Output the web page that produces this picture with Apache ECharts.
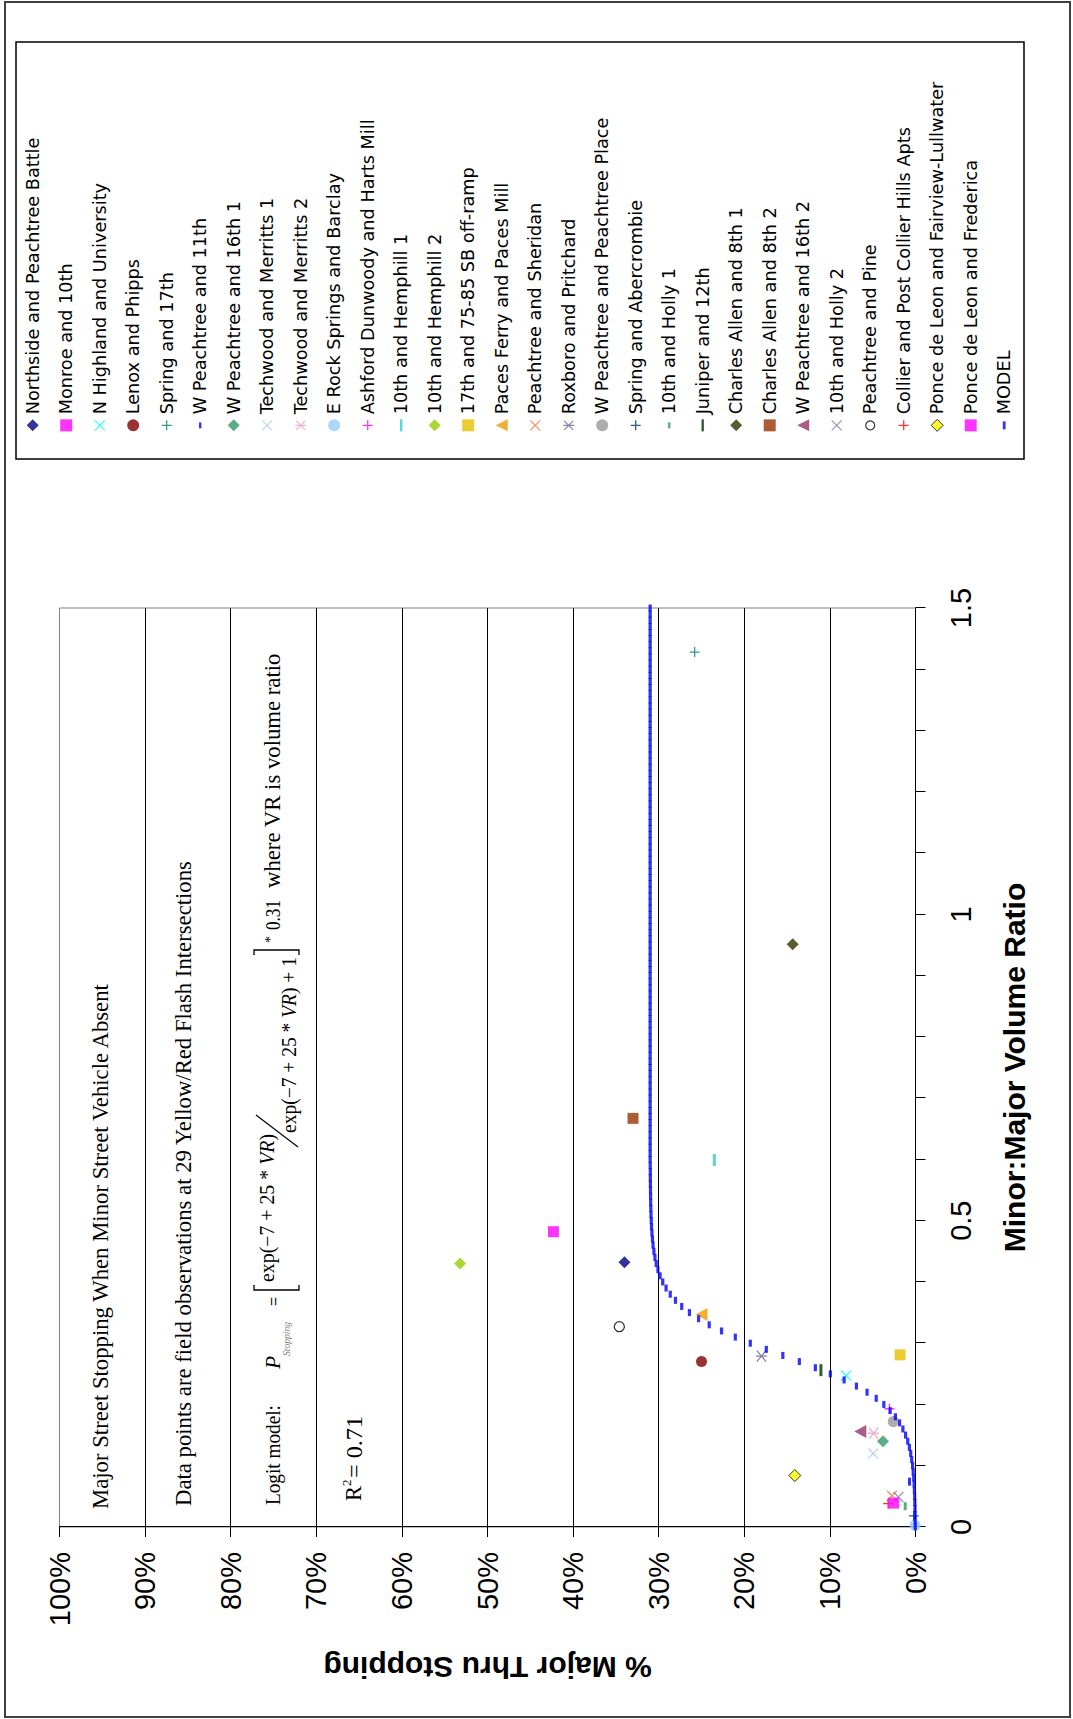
<!DOCTYPE html>
<html>
<head>
<meta charset="utf-8">
<title>Major Street Stopping When Minor Street Vehicle Absent</title>
<script src="https://cdn.jsdelivr.net/npm/echarts@6/dist/echarts.min.js"></script>
<style>
  html, body { margin: 0; padding: 0; background: #fff; overflow: hidden; }
  #page { position: absolute; left: 0; top: 0; width: 1073px; height: 1719px; overflow: hidden; background: #fff; }
  /* the chart is laid out landscape and turned a quarter turn counter-clockwise onto the portrait page */
  #chart { position: absolute; left: 0; top: 0; width: 1719px; height: 1073px;
           transform-origin: 0 0; transform: translate(0, 1719px) rotate(-90deg); }
</style>
</head>
<body>
<div id="page"><div id="chart"></div></div>
<script>
// ---- field observations (29 yellow/red flash intersections) ----
const siteNames = [
  'Northside and Peachtree Battle', 'Monroe and 10th', 'N Highland and University', 'Lenox and Phipps',
  'Spring and 17th', 'W Peachtree and 11th', 'W Peachtree and 16th 1', 'Techwood and Merritts 1',
  'Techwood and Merritts 2', 'E Rock Springs and Barclay', 'Ashford Dunwoody and Harts Mill', '10th and Hemphill 1',
  '10th and Hemphill 2', '17th and 75-85 SB off-ramp', 'Paces Ferry and Paces Mill', 'Peachtree and Sheridan',
  'Roxboro and Pritchard', 'W Peachtree and Peachtree Place', 'Spring and Abercrombie', '10th and Holly 1',
  'Juniper and 12th', 'Charles Allen and 8th 1', 'Charles Allen and 8th 2', 'W Peachtree and 16th 2',
  '10th and Holly 2', 'Peachtree and Pine', 'Collier and Post Collier Hills Apts', 'Ponce de Leon and Fairview-Lullwater',
  'Ponce de Leon and Frederica'
];
// minor:major volume ratio
const volumeRatio = [
  0.432, 0.482, 0.247, 0.270, 1.428, 0.074, 0.140, 0.120, 0.153, 0.003,
  0.193, 0.599, 0.430, 0.281, 0.347, 0.051, 0.279, 0.172, 0.018, 0.034,
  0.256, 0.951, 0.667, 0.156, 0.049, 0.327, 0.038, 0.084, 0.039
];
// % of major street through vehicles stopping
const pctStopping = [
  34.0, 42.3, 8.1, 25.0, 25.8, 0.7, 3.8, 4.95, 4.9, 0.05,
  3.05, 23.5, 53.2, 1.8, 25.0, 2.75, 18.0, 2.6, 0.2, 1.2,
  11.05, 14.35, 33.0, 6.45, 2.0, 34.6, 3.2, 14.1, 2.55
];

// ---- logit model curve ----
const modelName = 'MODEL';
const modelRatio = [
  0.00, 0.01, 0.02, 0.03, 0.04, 0.05, 0.06, 0.07, 0.08, 0.09,
  0.10, 0.11, 0.12, 0.13, 0.14, 0.15, 0.16, 0.17, 0.18, 0.19,
  0.20, 0.21, 0.22, 0.23, 0.24, 0.25, 0.26, 0.27, 0.28, 0.29,
  0.30, 0.31, 0.32, 0.33, 0.34, 0.35, 0.36, 0.37, 0.38, 0.39,
  0.40, 0.41, 0.42, 0.43, 0.44, 0.45, 0.46, 0.47, 0.48, 0.49,
  0.50, 0.51, 0.52, 0.53, 0.54, 0.55, 0.56, 0.57, 0.58, 0.59,
  0.60, 0.61, 0.62, 0.63, 0.64, 0.65, 0.66, 0.67, 0.68, 0.69,
  0.70, 0.71, 0.72, 0.73, 0.74, 0.75, 0.76, 0.77, 0.78, 0.79,
  0.80, 0.81, 0.82, 0.83, 0.84, 0.85, 0.86, 0.87, 0.88, 0.89,
  0.90, 0.91, 0.92, 0.93, 0.94, 0.95, 0.96, 0.97, 0.98, 0.99,
  1.00, 1.01, 1.02, 1.03, 1.04, 1.05, 1.06, 1.07, 1.08, 1.09,
  1.10, 1.11, 1.12, 1.13, 1.14, 1.15, 1.16, 1.17, 1.18, 1.19,
  1.20, 1.21, 1.22, 1.23, 1.24, 1.25, 1.26, 1.27, 1.28, 1.29,
  1.30, 1.31, 1.32, 1.33, 1.34, 1.35, 1.36, 1.37, 1.38, 1.39,
  1.40, 1.41, 1.42, 1.43, 1.44, 1.45, 1.46, 1.47, 1.48, 1.49,
  1.50
];
const modelPct = [
  0.03, 0.04, 0.05, 0.06, 0.08, 0.10, 0.13, 0.16, 0.21, 0.27,
  0.34, 0.44, 0.56, 0.71, 0.91, 1.16, 1.47, 1.86, 2.35, 2.96,
  3.70, 4.59, 5.66, 6.90, 8.34, 9.95, 11.70, 13.57, 15.50, 17.43,
  19.30, 21.05, 22.66, 24.10, 25.34, 26.41, 27.31, 28.04, 28.65, 29.14,
  29.53, 29.84, 30.09, 30.29, 30.44, 30.56, 30.66, 30.73, 30.79, 30.84,
  30.87, 30.90, 30.92, 30.94, 30.95, 30.96, 30.97, 30.98, 30.98, 30.99,
  31.00, 31.00, 31.00, 31.00, 31.00, 31.00, 31.00, 31.00, 31.00, 31.00,
  31.00, 31.00, 31.00, 31.00, 31.00, 31.00, 31.00, 31.00, 31.00, 31.00,
  31.00, 31.00, 31.00, 31.00, 31.00, 31.00, 31.00, 31.00, 31.00, 31.00,
  31.00, 31.00, 31.00, 31.00, 31.00, 31.00, 31.00, 31.00, 31.00, 31.00,
  31.00, 31.00, 31.00, 31.00, 31.00, 31.00, 31.00, 31.00, 31.00, 31.00,
  31.00, 31.00, 31.00, 31.00, 31.00, 31.00, 31.00, 31.00, 31.00, 31.00,
  31.00, 31.00, 31.00, 31.00, 31.00, 31.00, 31.00, 31.00, 31.00, 31.00,
  31.00, 31.00, 31.00, 31.00, 31.00, 31.00, 31.00, 31.00, 31.00, 31.00,
  31.00, 31.00, 31.00, 31.00, 31.00, 31.00, 31.00, 31.00, 31.00, 31.00,
  31.00
];

// ---- axis tick labels ----
const ratioTickLabels = ['0', '0.5', '1', '1.5'];
const pctTickLabels = ['0%', '10%', '20%', '30%', '40%', '50%', '60%', '70%', '80%', '90%', '100%'];

// ---- marker styling per site ----
const markerKinds = [
  'diamond', 'square', 'cross', 'circle', 'plus', 'dashShort', 'diamond', 'cross', 'star', 'circle',
  'plus', 'dashLong', 'diamond', 'square', 'triangle', 'cross', 'star', 'circle', 'plus', 'dashShort',
  'dashLong', 'diamond', 'square', 'triangle', 'cross', 'ring', 'plus', 'diamondOutline', 'square'
];
const markerColors = [
  '#000080', '#FF00FF', '#00FFFF', '#800000', '#008080', '#0000FF', '#339966', '#B0C8F0', '#E8A0C8', '#99CCFF',
  '#FF00FF', '#33CCCC', '#99CC00', '#E6C000', '#EE9C00', '#F2783C', '#666699', '#999999', '#003366', '#339966',
  '#003300', '#333300', '#993300', '#993366', '#8080B0', '#000000', '#FF0000', '#FFFF00', '#FF00FF'
];
const modelColor = '#0000FF';

const PAD = 'M0,0L0,0M12,12L12,12';
const KIND_DEFS = {
  diamond:        { symbol: 'diamond', size: 12, mode: 'fill', icon: 'diamond' },
  diamondOutline: { symbol: 'diamond', size: 12, mode: 'outlined', icon: 'diamond' },
  square:         { symbol: 'rect', size: 11, mode: 'fill', icon: 'rect' },
  circle:         { symbol: 'circle', size: 11, mode: 'fill', icon: 'circle' },
  ring:           { symbol: 'circle', size: 10, mode: 'ring', icon: 'path://' + PAD + 'M6,1.5A4.5,4.5 0 1 1 5.99,1.5Z' },
  triangle:       { symbol: 'triangle', size: [13, 12], mode: 'fill', icon: 'triangle' },
  cross:          { symbol: 'path://M0,0L10,10M10,0L0,10', size: 10, mode: 'stroke', icon: 'path://' + PAD + 'M1,1L11,11M11,1L1,11' },
  plus:           { symbol: 'path://M5,0L5,10M0,5L10,5', size: 10, mode: 'stroke', icon: 'path://' + PAD + 'M6,1L6,11M1,6L11,6' },
  star:           { symbol: 'path://M0,0L10,10M10,0L0,10M5,-1L5,11', size: 11, mode: 'stroke', icon: 'path://' + PAD + 'M1.5,1.5L10.5,10.5M10.5,1.5L1.5,10.5M6,0.5L6,11.5' },
  dashShort:      { symbol: 'rect', size: [8, 3], mode: 'fill', icon: 'path://' + PAD + 'M3,4.8H9V7.2H3Z' },
  dashLong:       { symbol: 'rect', size: [12, 3], mode: 'fill', icon: 'path://' + PAD + 'M0,4.8H12V7.2H0Z' },
  modelDash:      { symbol: 'rect', size: [7, 3.2], mode: 'fill', icon: 'path://' + PAD + 'M2,4.6H10V7.4H2Z' }
};

function styleFor(kind, color) {
  const d = KIND_DEFS[kind];
  if (d.mode === 'stroke') return { color: 'rgba(0,0,0,0)', borderColor: color, borderWidth: 1.3 };
  if (d.mode === 'ring') return { color: '#FFFFFF', borderColor: '#000000', borderWidth: 1.2 };
  if (d.mode === 'outlined') return { color: color, borderColor: '#000000', borderWidth: 1 };
  return { color: color, borderWidth: 0 };
}

const series = siteNames.map((name, i) => {
  const d = KIND_DEFS[markerKinds[i]];
  return {
    type: 'scatter', name: name,
    data: [[volumeRatio[i], pctStopping[i]]],
    symbol: d.symbol, symbolSize: d.size,
    itemStyle: styleFor(markerKinds[i], markerColors[i]),
    emphasis: { disabled: true }, silent: true
  };
});
series.push({
  type: 'scatter', name: modelName,
  data: modelRatio.map((r, i) => [r, modelPct[i]]),
  symbol: KIND_DEFS.modelDash.symbol, symbolSize: KIND_DEFS.modelDash.size,
  itemStyle: styleFor('modelDash', modelColor),
  emphasis: { disabled: true }, silent: true
});

const legendData = siteNames.map((name, i) => ({
  name: name, icon: KIND_DEFS[markerKinds[i]].icon, itemStyle: styleFor(markerKinds[i], markerColors[i])
}));
legendData.push({ name: modelName, icon: KIND_DEFS.modelDash.icon, itemStyle: styleFor('modelDash', modelColor) });

// ---- annotation text inside the plot ----
const measureCtx = document.createElement('canvas').getContext('2d');
const SERIF = 'Liberation Serif';
function measure(str, size, italic) {
  measureCtx.font = (italic ? 'italic ' : '') + size + 'px "' + SERIF + '"';
  return measureCtx.measureText(str).width;
}
// lays out a run of text pieces from a left edge along a baseline, squeezed/stretched to a given width
function textRun(pieces, left, baseline, size, targetWidth, color) {
  const widths = pieces.map(p => measure(p[0], size, p[1]));
  const natural = widths.reduce((a, b) => a + b, 0);
  const s = targetWidth ? targetWidth / natural : 1;
  let x = left;
  return pieces.map((p, i) => {
    const el = {
      type: 'text', x: x, y: baseline - 0.34 * size, scaleX: s, silent: true,
      style: {
        text: p[0], fontFamily: SERIF, fontSize: size, fontStyle: p[1] ? 'italic' : 'normal',
        fill: color || '#000', align: 'left', verticalAlign: 'middle'
      }
    };
    x += widths[i] * s;
    return el;
  });
}

const notes = [].concat(
  textRun([['Major Street Stopping When Minor Street Vehicle Absent']], 210, 108, 22.5, 527),
  textRun([['Data points are field observations at 29 Yellow/Red Flash Intersections']], 213, 191.5, 22.5, 646),
  textRun([['Logit model:']], 214, 280, 22, 100),
  textRun([['P', true]], 350, 280, 22, 13),
  textRun([['Stopping', true]], 363, 290, 9.5, 34, '#808080'),
  textRun([['=']], 413, 281, 20, 9),
  textRun([['exp(\u22127 + 25 * '], ['VR', true], [')']], 437, 274, 20, 148),
  textRun([['exp(\u22127 + 25 * '], ['VR', true], [') + 1']], 586, 296, 20, 176),
  textRun([['*']], 776, 275, 14),
  textRun([['0.31']], 789, 280, 20, 30),
  textRun([['where VR is volume ratio']], 831, 280, 22.5, 235),
  textRun([['R']], 218, 361.5, 22.5),
  textRun([['2']], 233, 351, 13),
  textRun([['= 0.71']], 241, 361.5, 22.5, 62)
);

const formulaStrokes = [
  { type: 'polyline', silent: true, shape: { points: [[434, 254], [429, 254], [429, 299], [434, 299]] }, style: { fill: 'none', stroke: '#000', lineWidth: 1.3 } },
  { type: 'polyline', silent: true, shape: { points: [[764, 254], [769, 254], [769, 299], [764, 299]] }, style: { fill: 'none', stroke: '#000', lineWidth: 1.3 } },
  { type: 'line', silent: true, shape: { x1: 572, y1: 298, x2: 604, y2: 256 }, style: { stroke: '#000', lineWidth: 1.2 } }
];

const frames = [
  { type: 'rect', silent: true, shape: { x: 2, y: 5, width: 1715, height: 1065 }, style: { fill: 'none', stroke: '#404040', lineWidth: 2 } },
  { type: 'rect', silent: true, shape: { x: 1260, y: 16, width: 417, height: 1008 }, style: { fill: 'none', stroke: '#000', lineWidth: 1.5 } }
];

const chart = echarts.init(document.getElementById('chart'), null, { renderer: 'svg', width: 1719, height: 1073 });
chart.setOption({
  animation: false,
  backgroundColor: '#fff',
  textStyle: { fontFamily: 'Liberation Sans', color: '#000' },
  grid: {
    left: 192, top: 59.5, width: 919, height: 856,
    show: true, backgroundColor: '#fff', borderColor: '#808080', borderWidth: 1,
    containLabel: false, outerBoundsMode: 'none'
  },
  xAxis: {
    type: 'value', min: 0, max: 1.5, interval: 0.1,
    name: 'Minor:Major Volume Ratio', nameLocation: 'middle', nameGap: 84,
    nameTextStyle: { fontFamily: 'Liberation Sans', fontSize: 30, fontWeight: 'bold', color: '#000' },
    axisLine: { show: true, onZero: false, lineStyle: { color: '#000', width: 1 } },
    axisTick: { show: true, inside: false, length: 10, lineStyle: { color: '#000', width: 1 } },
    axisLabel: {
      margin: 31, fontFamily: 'Liberation Sans', fontSize: 29, color: '#000', hideOverlap: false,
      formatter: v => { const s = String(Math.round(v * 10) / 10); return ratioTickLabels.indexOf(s) >= 0 ? s : ''; }
    },
    splitLine: { show: false }
  },
  yAxis: {
    type: 'value', min: 0, max: 100, interval: 10,
    name: '% Major Thru Stopping', nameLocation: 'middle', nameGap: 125, nameRotate: 90,
    nameTextStyle: { fontFamily: 'Liberation Sans', fontSize: 30, fontWeight: 'bold', color: '#000' },
    axisLine: { show: true, onZero: false, lineStyle: { color: '#000', width: 1 } },
    axisTick: { show: true, inside: false, length: 10, lineStyle: { color: '#000', width: 1 } },
    axisLabel: {
      margin: 25, fontFamily: 'Liberation Sans', fontSize: 29, color: '#000', hideOverlap: false,
      formatter: v => pctTickLabels[Math.round(v / 10)]
    },
    splitLine: { show: true, showMinLine: false, showMaxLine: false, lineStyle: { color: '#000', width: 1 } }
  },
  legend: {
    show: true, orient: 'vertical', left: 1287, top: 22.7, padding: 0,
    itemWidth: 12, itemHeight: 12, itemGap: 13.5, selectedMode: false,
    textStyle: { fontFamily: 'DejaVu Sans', fontSize: 17.7, color: '#000', lineHeight: 20 },
    data: legendData
  },
  graphic: { elements: frames.concat(formulaStrokes, notes) },
  series: series
});
</script>
</body>
</html>
